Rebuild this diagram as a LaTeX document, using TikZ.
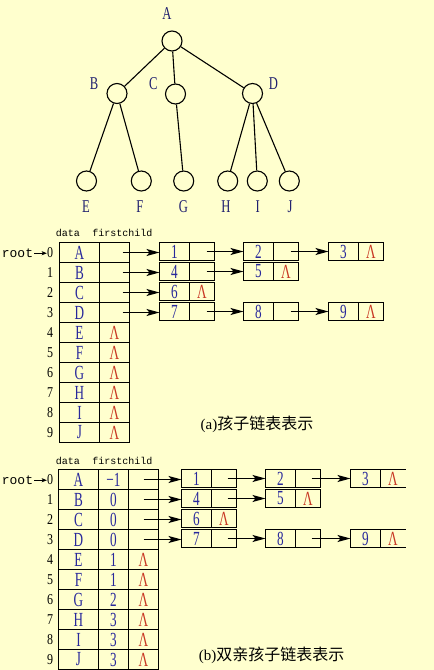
\documentclass[tikz,border=0pt]{standalone}
\usepackage{fontspec}
\setmainfont{Liberation Serif}
\newfontfamily\monof{Liberation Mono}
\newfontfamily\cjkf{Noto Sans CJK SC}
\usetikzlibrary{arrows.meta,calc}
\definecolor{bg}{RGB}{255,255,206}
\definecolor{cblue}{RGB}{40,40,155}
\definecolor{cred}{RGB}{200,55,35}
\definecolor{tblue}{RGB}{30,30,110}
\newcommand\cnd[3]{\scalebox{#2}[1]{\fontsize{#1}{#1}\selectfont #3}}
\newcommand\CT[1]{\cnd{20}{0.66}{#1}}
\newcommand\TL[1]{\cnd{18}{0.7}{#1}}
\newcommand\IX[1]{\cnd{15}{0.8}{#1}}
\newcommand\LL{\textcolor{cred}{\CT{Λ}}}
\newcommand\lnode[5]{%
  \node[cell,minimum width=30pt,minimum height=18pt] (#1d) at (#2,#3) {\CT{#4}};
  \node[cell,minimum width=25pt,minimum height=18pt,anchor=west] (#1p) at (#1d.east) {#5};}
\newcommand\lnodeopen[4]{%
  \node[cell,minimum width=30pt,minimum height=18pt] (#1d) at (#2,#3) {\CT{#4}};
  \node[cell,draw=none,minimum width=25pt,minimum height=18pt,anchor=west] (#1p) at (#1d.east) {\LL};
  \draw[tline] (#1p.north west) -- (#1p.north east) (#1p.south west) -- (#1p.south east);}
% arrow from a point offset left of node #1's east side, to node #3's west side
\newcommand\larr[3]{%
  \coordinate (#1s) at ($(#1.east)+(#2,0)$);
  \draw[arr] (#1s) -- (#1s -| #3.west);}
\tikzset{
  tcirc/.style={circle,draw,line width=1.1pt,minimum size=20pt,inner sep=0pt},
  tlab/.style={inner sep=0pt,text=tblue},
  tedge/.style={line width=1.1pt},
  tline/.style={line width=1.1pt},
  cell/.style={draw,line width=1.1pt,inner sep=0pt,outer sep=0pt,minimum height=20pt,text=cblue},
  idx/.style={anchor=base,inner sep=0pt},
  rootl/.style={anchor=base,inner sep=1pt,font=\monof\fontsize{13}{13}\selectfont},
  hdr/.style={inner sep=0pt,font=\monof\fontsize{10}{10}\selectfont},
  arr/.style={line width=1.2pt,-{Stealth[length=13pt,width=7pt,inset=3pt]}},
  rarr/.style={line width=0.9pt,-{Stealth[length=5pt,width=4pt,inset=1pt]}},
  capt/.style={inner sep=0pt}
}
\begin{document}
\begin{tikzpicture}[x=1pt,y=-1pt]
\useasboundingbox (0,0) rectangle (434,670);
\fill[bg] (0,0) rectangle (434,670);
\clip (0,0) rectangle (434,670);
% ---------- tree ----------
\node[tcirc] (A) at (172,41) {};
\node[tcirc] (B) at (117,93.5) {};
\node[tcirc] (C) at (175.5,94) {};
\node[tcirc] (D) at (252.5,93.5) {};
\node[tcirc] (E) at (86.5,181) {};
\node[tcirc] (F) at (141.3,181) {};
\node[tcirc] (G) at (183.7,181) {};
\node[tcirc] (H) at (227.7,181) {};
\node[tcirc] (I) at (257.3,181) {};
\node[tcirc] (J) at (289.3,181) {};
\draw[tedge] (A) -- (B) (A) -- (C) (A) -- (D) (B) -- (E) (B) -- (F) (C) -- (G)
  (D) -- (H) (D) -- (I) (D) -- (J);
\node[tlab] (lA) at (167,14) {\TL{A}};
\node[tlab] (lB) at (94,84) {\TL{B}};
\node[tlab] (lC) at (153.3,84) {\TL{C}};
\node[tlab] (lD) at (273.3,84) {\TL{D}};
\node[tlab] (lE) at (86,207) {\TL{E}};
\node[tlab] (lF) at (140,207) {\TL{F}};
\node[tlab] (lG) at (183.3,207) {\TL{G}};
\node[tlab] (lH) at (226,207) {\TL{H}};
\node[tlab] (lI) at (257.7,207) {\TL{I}};
\node[tlab] (lJ) at (290,207) {\TL{J}};
% ---------- (a) ----------
\node[hdr] (ahd) at (68,232.5) {data};
\node[hdr] (ahf) at (122.5,232.5) {firstchild};
\foreach \r/\d/\e in {0/A/0,1/B/0,2/C/0,3/D/0,4/E/1,5/F/1,6/G/1,7/H/1,8/I/1,9/J/1}{
  \node[cell,minimum width=40pt] (ad\r) at (79.5,{252.5+20*\r}) {\CT{\d}};
  \node[cell,minimum width=30pt] (af\r) at (114.5,{252.5+20*\r}) {\ifnum\e=1 \LL\fi};
  \node[idx] (ai\r) at (50,{257.5+20*\r}) {\IX{\r}};
}
\node[rootl] (aroot) at (17.5,257.5) {root};
\draw[rarr] (aroot.east) -- (aroot.east -| ai0.west);
\lnode{a01}{174.5}{251.5}{1}{}
\lnode{a02}{258.5}{251.5}{2}{}
\lnode{a03}{343.5}{251.5}{3}{\LL}
\lnode{a11}{174.5}{271.5}{4}{}
\lnode{a12}{258.5}{271.5}{5}{\LL}
\lnode{a21}{174.5}{291.5}{6}{\LL}
\lnode{a31}{174.5}{311.5}{7}{}
\lnode{a32}{258.5}{311.5}{8}{}
\lnode{a33}{343.5}{311.5}{9}{\LL}
\larr{af0}{-7}{a01d}
\larr{af1}{-7}{a11d}
\larr{af2}{-7}{a21d}
\larr{af3}{-7}{a31d}
\larr{a01p}{-8}{a02d}
\larr{a11p}{-8}{a12d}
\larr{a31p}{-8}{a32d}
\larr{a02p}{-8}{a03d}
\larr{a32p}{-8}{a33d}
\node[capt] (capa) at (257,424) {\fontsize{15}{15}\selectfont(a)\cjkf\fontsize{16}{16}\selectfont 孩子链表表示};
% ---------- (b) ----------
\node[hdr] (bhd) at (68,461) {data};
\node[hdr] (bhf) at (122.3,461) {firstchild};
\foreach \r/\d/\p/\e in {0/A/−1/0,1/B/0/0,2/C/0/0,3/D/0/0,4/E/1/1,5/F/1/1,6/G/2/1,7/H/3/1,8/I/3/1,9/J/3/1}{
  \node[cell,minimum width=40pt] (bd\r) at (78.5,{479.5+20*\r}) {\CT{\d}};
  \node[cell,minimum width=30pt] (bq\r) at (113.5,{479.5+20*\r}) {\CT{\p}};
  \node[cell,minimum width=30pt] (bp\r) at (143.5,{479.5+20*\r}) {\ifnum\e=1 \LL\fi};
  \node[idx] (bi\r) at (50,{484.5+20*\r}) {\IX{\r}};
}
\node[rootl] (broot) at (17.5,484.5) {root};
\draw[rarr] (broot.east) -- (broot.east -| bi0.west);
\lnode{b01}{196.5}{478.5}{1}{}
\lnode{b02}{280.5}{478.5}{2}{}
\lnodeopen{b03}{365.5}{478.5}{3}
\lnode{b11}{196.5}{498.5}{4}{}
\lnode{b12}{280.5}{498.5}{5}{\LL}
\lnode{b21}{196.5}{518.5}{6}{\LL}
\lnode{b31}{196.5}{538.5}{7}{}
\lnode{b32}{280.5}{538.5}{8}{}
\lnodeopen{b33}{365.5}{538.5}{9}
\larr{bp0}{-15}{b01d}
\larr{bp1}{-15}{b11d}
\larr{bp2}{-15}{b21d}
\larr{bp3}{-15}{b31d}
\larr{b01p}{-9}{b02d}
\larr{b11p}{-9}{b12d}
\larr{b31p}{-9}{b32d}
\larr{b02p}{-9}{b03d}
\larr{b32p}{-9}{b33d}
\node[capt] (capb) at (271.7,655) {\fontsize{15}{15}\selectfont(b)\cjkf\fontsize{16}{16}\selectfont 双亲孩子链表表示};
\end{tikzpicture}
\end{document}
